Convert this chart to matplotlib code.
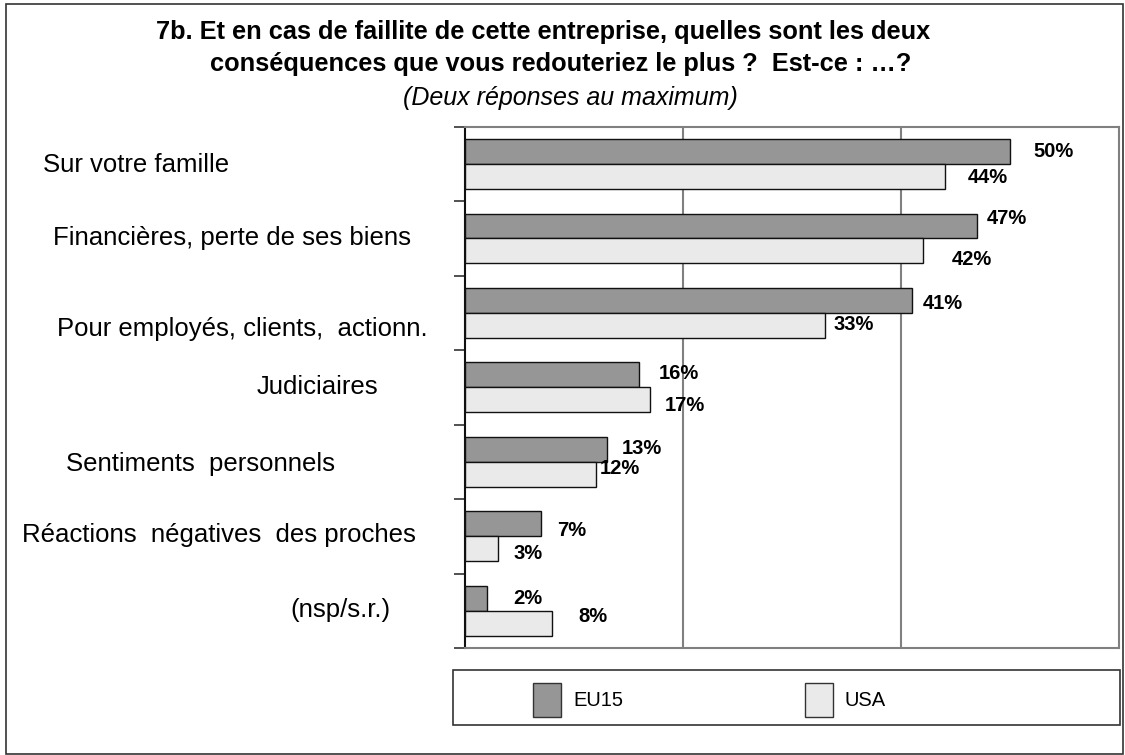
import matplotlib
matplotlib.use("Agg")
import matplotlib.pyplot as plt
from matplotlib.patches import Rectangle, Patch

plt.rcParams['font.family'] = ['Liberation Sans', 'DejaVu Sans']

categories = ['Sur votre famille', 'Financières, perte de ses biens',
              'Pour employés, clients,  actionn.', 'Judiciaires',
              'Sentiments  personnels', 'Réactions  négatives  des proches',
              '(nsp/s.r.)']
eu15 = [50, 47, 41, 16, 13, 7, 2]
usa = [44, 42, 33, 17, 12, 3, 8]
series_names = ['EU15', 'USA']

title_lines = ['7b. Et en cas de faillite de cette entreprise, quelles sont les deux',
               'conséquences que vous redouteriez le plus ?  Est-ce : …?']
subtitle = '(Deux réponses au maximum)'

# layout (pixels of the 1125x755 picture)
W, H = 1125, 755
label_left = [43, 53, 57, 257, 66, 22, 290]
label_y = [165, 238, 329, 387, 464, 535, 610]
title_x = [543, 561]
title_y = [32, 64]
# value label offsets (dx, dy) in pixels from bar end / bar centre
eu_off = [(23, 0), (9, 7), (11, -3), (19, 1), (15, 1), (16, -7), (26, 0)]
usa_off = [(23, -1), (29, -9), (9, 1), (14, -6), (4, 6), (16, -5), (26, 7)]

fig = plt.figure(figsize=(W / 100, H / 100), dpi=100)

# outer frame
fig.patches.append(Rectangle((6 / W, 1 / H), 1117 / W, 750 / H, transform=fig.transFigure,
                             fill=False, edgecolor='#333333', linewidth=1.2))

x0, x1, y0, y1 = 465, 1119, 127, 648
ax = fig.add_axes([x0 / W, 1 - y1 / H, (x1 - x0) / W, (y1 - y0) / H])

n = len(categories)
centers = [i + 0.5 for i in range(n)]
bh = 0.335
eu_pos = [c - 0.17 for c in centers]
usa_pos = [c + 0.165 for c in centers]

ax.barh(eu_pos, eu15, height=bh, color='#969696', edgecolor='#111111', linewidth=1.0,
        label=series_names[0], zorder=3)
ax.barh(usa_pos, usa, height=bh, color='#eaeaea', edgecolor='#111111', linewidth=1.0,
        label=series_names[1], zorder=3)

ax.set_xlim(0, 60)
ax.set_ylim(n, 0)
ax.set_xticks([])
ax.set_yticks(range(n + 1))
ax.set_yticklabels([])
ax.tick_params(axis='y', length=8, width=1.2, color='#333333', direction='out')
for x in (20, 40):
    ax.axvline(x, color='#808080', linewidth=1.5, zorder=1)
for s in ('top', 'right', 'bottom'):
    ax.spines[s].set_color('#808080')
    ax.spines[s].set_linewidth(1.5)
ax.spines['left'].set_color('#111111')
ax.spines['left'].set_linewidth(1.5)

for vals, pos, offs in ((eu15, eu_pos, eu_off), (usa, usa_pos, usa_off)):
    for v, p, (dx, dy) in zip(vals, pos, offs):
        ax.annotate(f'{v}%', xy=(v, p), xytext=(dx, dy), textcoords='offset pixels',
                    ha='left', va='center', fontsize=14.5, fontweight='bold')

for lab, lx, ly in zip(categories, label_left, label_y):
    fig.text(lx / W, 1 - ly / H, lab, ha='left', va='center', fontsize=18.5)

for line, tx, ty in zip(title_lines, title_x, title_y):
    fig.text(tx / W, 1 - ty / H, line, ha='center', va='center',
             fontsize=18.3, fontweight='bold')
fig.text(570 / W, 1 - 98 / H, subtitle, ha='center', va='center', fontsize=18,
         style='italic')

# legend box
lx0, lx1, ly0, ly1 = 453, 1120, 670, 725
fig.patches.append(Rectangle((lx0 / W, 1 - ly1 / H), (lx1 - lx0) / W, (ly1 - ly0) / H,
                             transform=fig.transFigure, fill=False,
                             edgecolor='#333333', linewidth=1.2))
handles = [Patch(facecolor='#969696', edgecolor='#333333'),
           Patch(facecolor='#eaeaea', edgecolor='#333333')]
fig.legend(handles, series_names, loc='center left', ncol=2, frameon=False,
           bbox_to_anchor=(533 / W, 1 - 700 / H), fontsize=14.5, borderpad=0,
           handlelength=1.4, handleheight=2.2, handletextpad=0.6,
           columnspacing=9.0, borderaxespad=0)

fig.savefig('out.png', dpi=100)
